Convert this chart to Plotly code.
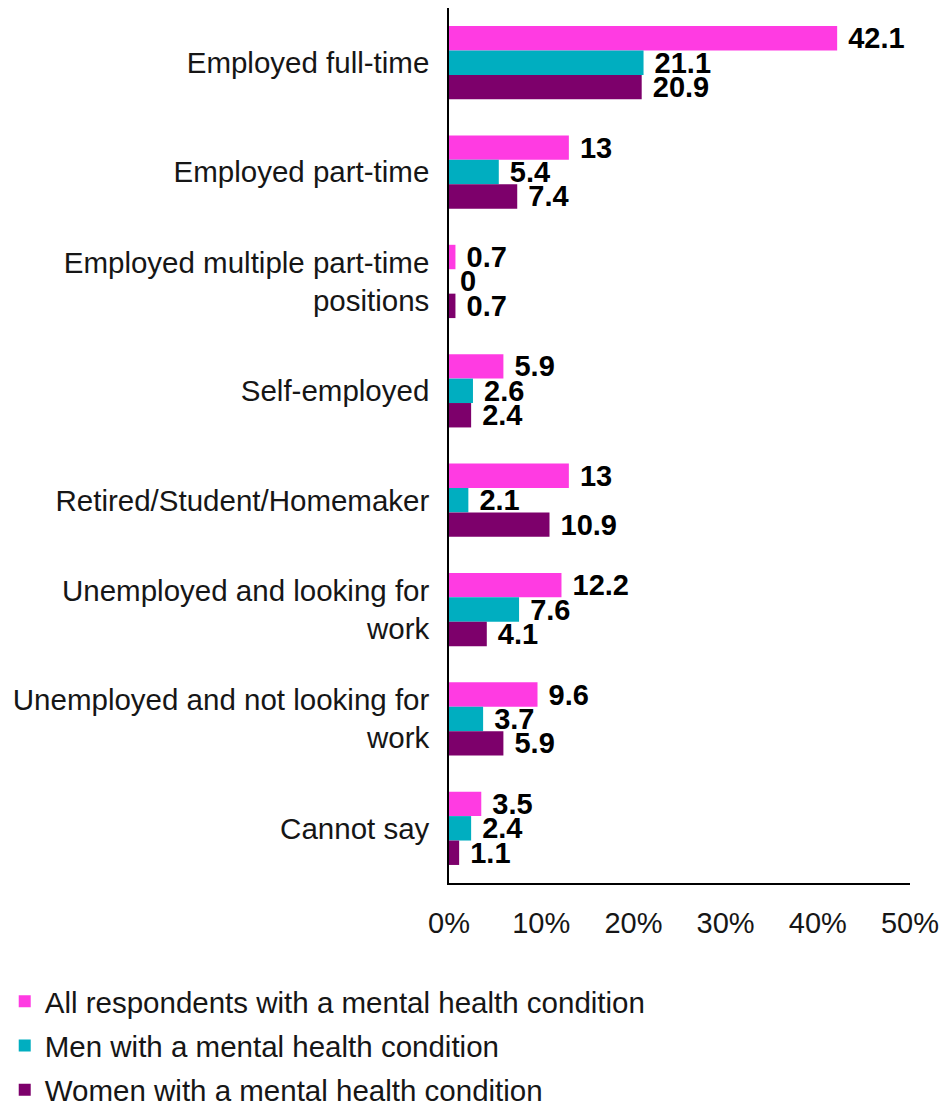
import plotly.graph_objects as go

categories = [
    "Employed full-time",
    "Employed part-time",
    "Employed multiple part-time<br>positions",
    "Self-employed",
    "Retired/Student/Homemaker",
    "Unemployed and looking for<br>work",
    "Unemployed and not looking for<br>work",
    "Cannot say",
]
all_respondents = [42.1, 13, 0.7, 5.9, 13, 12.2, 9.6, 3.5]
men = [21.1, 5.4, 0, 2.6, 2.1, 7.6, 3.7, 2.4]
women = [20.9, 7.4, 0.7, 2.4, 10.9, 4.1, 5.9, 1.1]
x_ticks = [0, 10, 20, 30, 40, 50]
x_tick_labels = ["0%", "10%", "20%", "30%", "40%", "50%"]

series = [
    ("All respondents with a mental health condition", all_respondents, "#FF3BE2"),
    ("Men with a mental health condition", men, "#00AEC0"),
    ("Women with a mental health condition", women, "#7D006B"),
]

FONT = "Liberation Sans, Arial, Helvetica, sans-serif"
TEXT_COLOR = "#161616"

fig = go.Figure()
for i, (name, vals, color) in enumerate(series):
    fig.add_trace(go.Bar(
        y=categories,
        x=vals,
        name=name,
        orientation="h",
        marker=dict(color=color, line=dict(width=0)),
        # leading space keeps the value clear of the bar end
        text=[f"\u00a0{v:g}" for v in vals],
        textposition="outside",
        constraintext="none",
        textfont=dict(family=FONT, size=29, color="black", weight="bold"),
        cliponaxis=False,
        legendgroup=f"g{i}",
    ))

fig.update_layout(
    width=945,
    height=1106,
    margin=dict(l=449, r=35, t=8, b=223, autoexpand=False),
    paper_bgcolor="white",
    plot_bgcolor="white",
    barmode="group",
    bargap=0.33,
    bargroupgap=0,
    font=dict(family=FONT, size=29.5, color=TEXT_COLOR),
    showlegend=True,
    legend=dict(
        orientation="v",
        xref="container",
        yref="container",
        x=0.005,
        y=0.118,
        xanchor="left",
        yanchor="top",
        font=dict(family=FONT, size=29.5, color=TEXT_COLOR),
        tracegroupgap=3,
        itemwidth=30,
    ),
)

fig.update_xaxes(
    range=[0, 50],
    tickvals=x_ticks,
    ticktext=x_tick_labels,
    tickangle=0,
    automargin=False,
    showgrid=False,
    zeroline=False,
    showline=True,
    linecolor="black",
    linewidth=1.5,
    ticks="",
    ticklabelstandoff=13,
    tickfont=dict(family=FONT, size=29, color=TEXT_COLOR),
)
fig.update_yaxes(
    autorange="reversed",
    automargin=False,
    showgrid=False,
    showline=True,
    linecolor="black",
    linewidth=1.5,
    ticks="",
    ticklabelstandoff=12,
    tickfont=dict(family=FONT, size=29.5, color=TEXT_COLOR),
)

fig.write_html("out.html")
